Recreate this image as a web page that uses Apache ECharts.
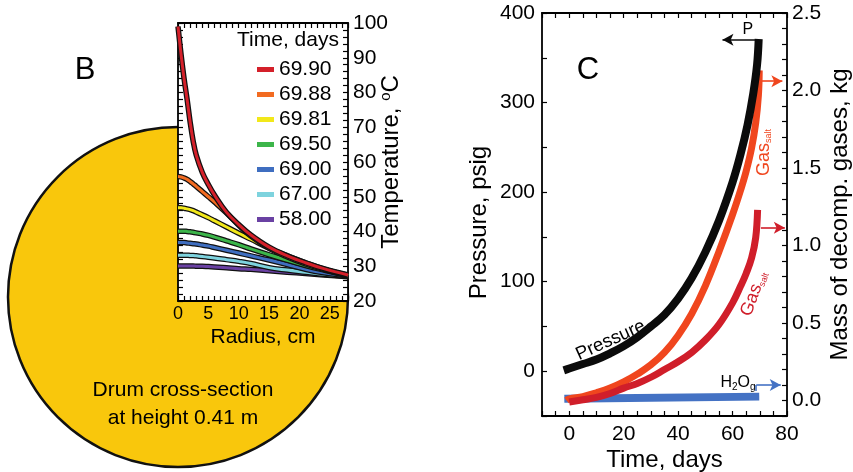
<!DOCTYPE html>
<html><head><meta charset="utf-8">
<script src="https://cdn.jsdelivr.net/npm/echarts@6/dist/echarts.min.js"></script>
<style>html,body{margin:0;padding:0;background:#fff}#c{width:853px;height:472px}</style>
</head><body><div id="c"></div>
<script>
const FONT = '"Liberation Sans", Arial, Helvetica, sans-serif';

// ---------- Panel B: temperature vs radius ----------
const radius = [0, 0.5, 1, 1.5, 2, 2.5, 3, 4, 5, 6, 8, 10, 12, 15, 18, 21, 24, 28];
const timeLabels = ['69.90', '69.88', '69.81', '69.50', '69.00', '67.00', '58.00'];
const temp_6990 = [99, 91, 84, 78, 71.5, 66, 62, 57, 53.5, 50.5, 45.5, 42, 39, 35.5, 33, 31, 29.3, 27.5];
const temp_6988 = [55.8, 55.7, 55.4, 55, 54.4, 53.7, 53, 51.5, 50, 48.5, 45.3, 41.8, 38.7, 35.2, 32.7, 30.7, 29.1, 27.4];
const temp_6981 = [46.8, 46.8, 46.7, 46.5, 46.3, 46, 45.6, 44.8, 44, 43.1, 41.3, 39.5, 37.8, 35.2, 33, 31, 29.2, 27.3];
const temp_6950 = [40.1, 40.1, 40.1, 40, 39.9, 39.8, 39.6, 39.3, 38.9, 38.4, 37.3, 36.2, 35, 33.3, 31.7, 30.2, 28.9, 27.3];
const temp_6900 = [36.8, 36.8, 36.8, 36.7, 36.6, 36.5, 36.4, 36.1, 35.8, 35.4, 34.6, 33.8, 33, 31.8, 30.5, 29.1, 28.1, 27.2];
const temp_6700 = [33.2, 33.2, 33.2, 33.2, 33.1, 33.1, 33, 32.8, 32.6, 32.4, 31.9, 31.4, 30.8, 29.6, 28.9, 28.3, 27.7, 27.1];
const temp_5800 = [30.1, 30.1, 30.1, 30.1, 30.1, 30.1, 30, 30, 29.9, 29.8, 29.6, 29.3, 29.1, 28.7, 28.3, 27.9, 27.5, 27.0];
const temps = [temp_6990, temp_6988, temp_6981, temp_6950, temp_6900, temp_6700, temp_5800];
const curveColors = ['#D4202A', '#F26B21', '#F2E81A', '#3CB54A', '#3F6EC0', '#7ED3DE', '#6A41A3'];

// ---------- Panel C: pressure and gas mass vs time ----------
const timeP = [-2, 0, 5, 10, 15, 20, 25, 30, 35, 40, 45, 50, 55, 60, 63, 65.5, 67.6, 69, 69.6];
const pressure = [1, 3, 8, 13, 20, 28, 38, 50, 63, 81, 104, 133, 168, 211, 243, 275, 310, 342, 371];
const timeGasUpper = [-1, 0, 5, 10, 15, 20, 25, 30, 35, 40, 45, 50, 55, 60, 63, 65, 67, 68.5, 69.5, 69.8];
const gasUpper = [0, 0.01, 0.025, 0.05, 0.08, 0.12, 0.17, 0.23, 0.31, 0.42, 0.56, 0.74, 0.96, 1.2, 1.36, 1.48, 1.63, 1.79, 1.97, 2.13];
const timeGasLower = [0, 5, 10, 15, 20, 25, 30, 35, 40, 45, 50, 55, 60, 63, 65, 67, 68.5, 69.2];
const gasLower = [-0.01, 0.005, 0.02, 0.045, 0.08, 0.11, 0.15, 0.2, 0.25, 0.31, 0.39, 0.49, 0.63, 0.74, 0.82, 0.92, 1.05, 1.23];
const timeH2O = [-1.8, 69.8];
const h2o = [0.012, 0.025];

const cBlack = '#0b0b0b', cOrange = '#F0461E', cRed = '#D01E2A', cBlue = '#4472C4';

const zip = (a, b) => a.map((v, i) => [v, b[i]]);

const chart = echarts.init(document.getElementById('c'), null, { renderer: 'canvas' });

const axisLine = { show: true, onZero: false, lineStyle: { color: '#000', width: 1.8 } };
const tick = { show: true, inside: true, length: 5, lineStyle: { color: '#000', width: 1.2 } };
const lab = (fs) => ({ color: '#000', fontSize: fs, fontFamily: FONT });

const series = [];
[6, 5, 4, 3, 2, 1, 0].forEach(i => {
  const d = zip(radius, temps[i]);
  series.push({ type: 'line', xAxisIndex: 0, yAxisIndex: 0, data: d, showSymbol: false, smooth: 0.4,
    silent: true, lineStyle: { color: '#111', width: 5.5 }, itemStyle: { color: '#111' } });
  series.push({ name: timeLabels[i], type: 'line', xAxisIndex: 0, yAxisIndex: 0, data: d, showSymbol: false,
    smooth: 0.4, lineStyle: { color: curveColors[i], width: 3 }, itemStyle: { color: curveColors[i] } });
});

const ml = (data, color) => ({
  silent: true, animation: false, symbolSize: [9, 11],
  lineStyle: { color: color, width: 1.6, type: 'solid' }, label: { show: false }, emphasis: { disabled: true },
  data: data
});

series.push({ type: 'line', xAxisIndex: 2, yAxisIndex: 3, data: zip(timeH2O, h2o), showSymbol: false,
  lineStyle: { color: cBlue, width: 8, cap: 'butt' }, itemStyle: { color: cBlue },
  markLine: ml([
    [{ coord: [68.7, 0.062], symbol: 'none' }, { coord: [68.7, 0.1], symbol: 'none' }],
    [{ coord: [68.7, 0.1], symbol: 'none' }, { coord: [77.7, 0.1], symbol: 'arrow' }]
  ], cBlue) });
series.push({ type: 'line', xAxisIndex: 2, yAxisIndex: 3, data: zip(timeGasUpper, gasUpper), showSymbol: false,
  smooth: 0.4, lineStyle: { color: cOrange, width: 7, cap: 'butt' }, itemStyle: { color: cOrange },
  markLine: ml([[{ coord: [70.6, 2.06], symbol: 'none' }, { coord: [78.3, 2.06], symbol: 'arrow' }]], cOrange) });
series.push({ type: 'line', xAxisIndex: 2, yAxisIndex: 3, data: zip(timeGasLower, gasLower), showSymbol: false,
  smooth: 0.4, lineStyle: { color: cRed, width: 7, cap: 'butt' }, itemStyle: { color: cRed },
  markLine: ml([[{ coord: [70.4, 1.115], symbol: 'none' }, { coord: [79.2, 1.115], symbol: 'arrow' }]], cRed) });
series.push({ type: 'line', xAxisIndex: 2, yAxisIndex: 2, data: zip(timeP, pressure), showSymbol: false,
  smooth: 0.4, lineStyle: { color: cBlack, width: 8, cap: 'butt' }, itemStyle: { color: cBlack },
  markLine: ml([[{ coord: [69.6, 370], symbol: 'none' }, { coord: [56.3, 370], symbol: 'arrow' }]], cBlack) });

const nameStyle = (fs, extra) => Object.assign({ fontSize: fs, fontFamily: FONT, color: '#000' }, extra || {});

const option = {
  animation: false,
  backgroundColor: '#fff',
  textStyle: { fontFamily: FONT },
  grid: [
    { left: 178, top: 23, width: 170, height: 278, show: true, backgroundColor: '#fff', borderWidth: 0,
      containLabel: false, outerBoundsMode: 'none' },
    { left: 542, top: 13, width: 245, height: 403, show: false, containLabel: false, outerBoundsMode: 'none' }
  ],
  legend: {
    data: timeLabels, orient: 'vertical', left: 252, top: 54, itemWidth: 17, itemHeight: 5, itemGap: 4,
    icon: 'rect', selectedMode: false,
    textStyle: { fontSize: 21, fontFamily: FONT, color: '#000', lineHeight: 21 }
  },
  xAxis: [
    { gridIndex: 0, type: 'value', position: 'bottom', min: 0, max: 28, interval: 1,
      axisLine, axisTick: tick, splitLine: { show: false },
      axisLabel: Object.assign(lab(18), { margin: 4, formatter: v => (v % 5 === 0 && v <= 25) ? String(v) : '' }),
      name: 'Radius, cm', nameLocation: 'middle', nameGap: 26, nameMoveOverlap: false,
      nameTextStyle: nameStyle(21) },
    { gridIndex: 0, type: 'value', position: 'top', min: 0, max: 28, interval: 1,
      axisLine, axisTick: tick, axisLabel: { show: false }, splitLine: { show: false } },
    { gridIndex: 1, type: 'value', position: 'bottom', min: -10, max: 80, interval: 5,
      axisLine, axisTick: tick, splitLine: { show: false },
      axisLabel: Object.assign(lab(21), { margin: 8, formatter: v => (v % 20 === 0 && v >= 0) ? String(v) : '' }),
      name: 'Time, days', nameLocation: 'middle', nameGap: 32, nameMoveOverlap: false,
      nameTextStyle: nameStyle(24) },
    { gridIndex: 1, type: 'value', position: 'top', min: -10, max: 80, interval: 5,
      axisLine, axisTick: tick, axisLabel: { show: false }, splitLine: { show: false } }
  ],
  yAxis: [
    { gridIndex: 0, type: 'value', position: 'right', min: 20, max: 100, interval: 2,
      axisLine, axisTick: tick, splitLine: { show: false },
      axisLabel: Object.assign(lab(21), { margin: 5, formatter: v => (v % 10 === 0) ? String(v) : '' }),
      name: 'Temperature, {sup|o}C', nameLocation: 'middle', nameGap: 30, nameMoveOverlap: false,
      nameTextStyle: nameStyle(24, { rich: { sup: { fontSize: 15, fontFamily: FONT, color: '#000', padding: [0, 0, 12, 0] } } }) },
    { gridIndex: 0, type: 'value', position: 'left', min: 20, max: 100, interval: 2,
      axisLine, axisTick: tick, axisLabel: { show: false }, splitLine: { show: false } },
    { gridIndex: 1, type: 'value', position: 'left', min: -50, max: 400, interval: 50,
      axisLine, axisTick: tick, splitLine: { show: false },
      axisLabel: Object.assign(lab(21), { margin: 7, formatter: v => (v % 100 === 0 && v >= 0) ? String(v) : '' }),
      name: 'Pressure, psig', nameLocation: 'middle', nameGap: 51, nameMoveOverlap: false,
      nameTextStyle: nameStyle(24, { padding: [0, 16, 0, 0] }) },
    { gridIndex: 1, type: 'value', position: 'right', min: -0.1, max: 2.5, interval: 0.1,
      axisLine, axisTick: tick, splitLine: { show: false },
      axisLabel: Object.assign(lab(21), { margin: 5, formatter: v => { const k = Math.round(v * 10); return (k >= 0 && k % 5 === 0) ? (k / 10).toFixed(1) : ''; } }),
      name: 'Mass of decomp. gases, kg', nameLocation: 'middle', nameGap: 41, nameMoveOverlap: false,
      nameTextStyle: nameStyle(24) }
  ],
  series
};
chart.setOption(option);

// ---------- Annotations placed through the axes' own scales ----------
const pB = pt => chart.convertToPixel({ xAxisIndex: 0, yAxisIndex: 0 }, pt);
const pP = pt => chart.convertToPixel({ xAxisIndex: 2, yAxisIndex: 2 }, pt);
const pM = pt => chart.convertToPixel({ xAxisIndex: 2, yAxisIndex: 3 }, pt);

const origin = pB([0, 20]);
const rimPt = pB([28, 20]);
const R = rimPt[0] - origin[0];

const txt = (x, y, text, fs, color, extra) => Object.assign({
  type: 'text', x, y, silent: true,
  style: Object.assign({ text, fontSize: fs, fontFamily: FONT, fill: color, align: 'center', verticalAlign: 'middle' }, extra || {})
});

const pLab = pP([65.6, 381.5]);
const presLab = pP([15.2, 34.5]);
const gasUp = pM([71.5, 1.6]);
const gasLo = pM([67.8, 0.69]);
const h2oLab = pM([62, 0.118]);

const subRich = fs => ({ s: { fontSize: fs, fontFamily: FONT, padding: [Math.round(fs * 1.1), 0, 0, 0] } });

chart.setOption({
  graphic: [
    { type: 'circle', z: -10, silent: true, shape: { cx: origin[0], cy: origin[1] - 4, r: R },
      style: { fill: '#F9C70C', stroke: '#111', lineWidth: 2.5 } },
    txt(85, 70, 'B', 31, '#000'),
    txt(588, 70, 'C', 31, '#000'),
    txt(288, 40, 'Time, days', 21, '#000'),
    txt(183, 404, 'Drum cross-section\nat height 0.41 m', 21, '#000', { lineHeight: 28 }),
    txt(pLab[0], pLab[1], 'P', 16, '#000'),
    Object.assign(txt(presLab[0], presLab[1], 'Pressure', 18.5, '#000'), { rotation: 0.426 }),
    Object.assign(txt(gasUp[0], gasUp[1], 'Gas{s|salt}', 18, cOrange, { rich: subRich(9) }), { rotation: Math.PI / 2 }),
    Object.assign(txt(gasLo[0], gasLo[1], 'Gas{s|salt}', 18, cRed, { rich: subRich(9) }), { rotation: 1.22 }),
    txt(h2oLab[0], h2oLab[1], 'H{s|2}O{s|g}', 16, '#000', { rich: subRich(10) })
  ]
});
</script>
</body></html>
